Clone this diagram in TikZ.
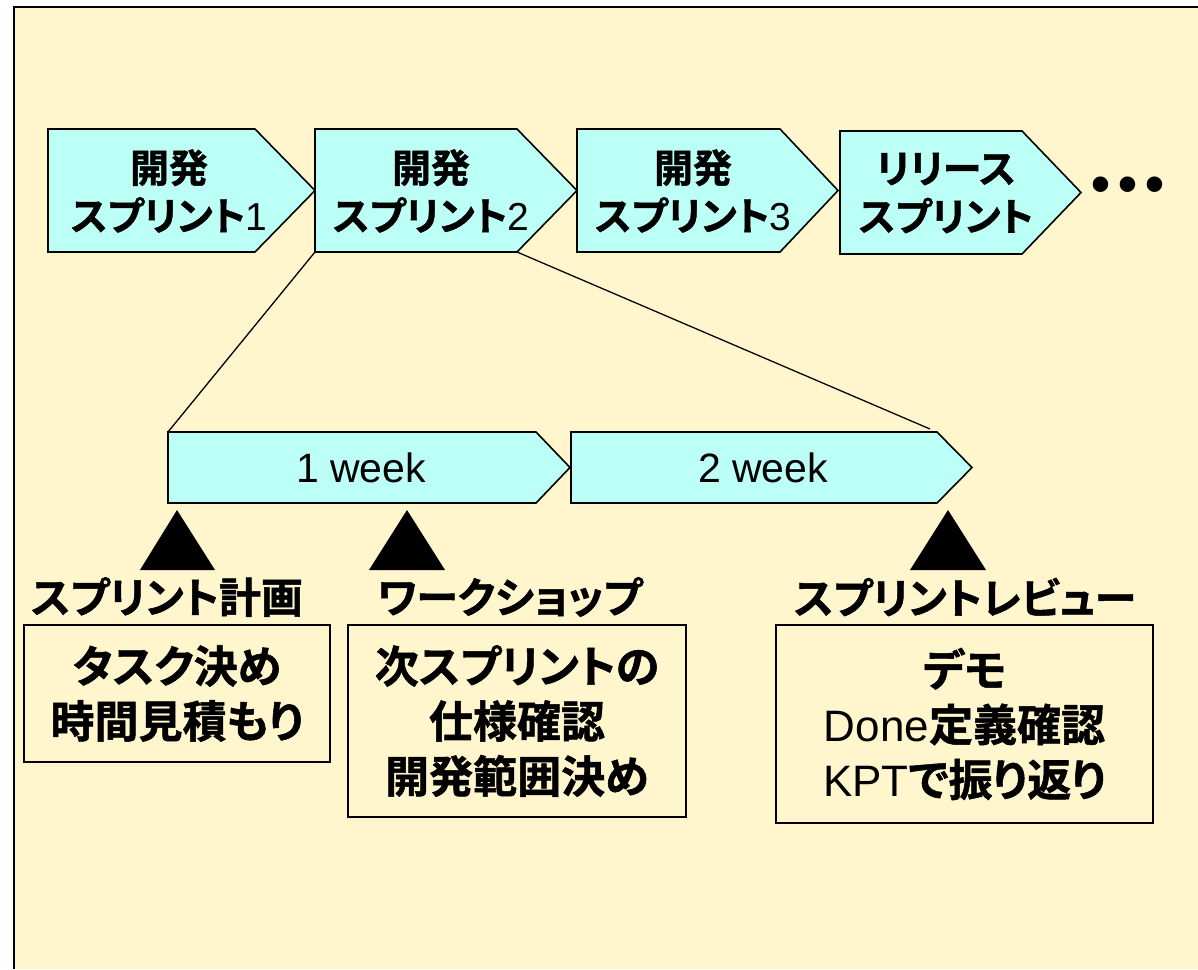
\documentclass[tikz,border=0pt]{standalone}
\usepackage{fontspec}
\setmainfont{Liberation Sans}
\newfontfamily\lat{Liberation Sans}
\newfontfamily\jp{Noto Sans CJK JP Bold}[RawFeature=+palt,FakeBold=1.2]
\definecolor{bgyellow}{RGB}{255,246,206}
\definecolor{chevcyan}{RGB}{188,255,247}
\newcommand\chevron[6]{%
  \draw[chev] (#2,#3) coordinate (#1nw) -- (#4,#3) coordinate (#1ne)
    -- (#5,{(#3+#6)/2}) coordinate (#1tip) -- (#4,#6) coordinate (#1se)
    -- (#2,#6) coordinate (#1sw) -- cycle;}
\begin{document}
\begin{tikzpicture}[x=1pt,y=-1pt,
  chev/.style={draw=black,line width=1.6pt,fill=chevcyan,line join=miter},
  toptext/.style={align=center,inner sep=0pt,font=\jp\fontsize{39}{48}\selectfont},
  weektext/.style={inner sep=0pt,font=\lat\fontsize{41}{48}\selectfont},
  conn/.style={draw=black,line width=1.3pt},
  marker/.style={fill=black},
  lbl/.style={inner sep=0pt,font=\jp\fontsize{42}{48}\selectfont},
  infobox/.style={draw=black,line width=1.5pt,fill=bgyellow,align=center,inner sep=0pt,
    font=\jp\fontsize{44}{55}\selectfont}]
\useasboundingbox (0,0) rectangle (1198,969);
\fill[bgyellow] (14,7) rectangle (1198,969);
\draw[line width=1.5pt] (14,969) -- (14,7) -- (1198,7);
% top chevrons
\chevron{c1}{48}{129}{255}{315}{252}
\chevron{c2}{315}{129}{517}{577}{252}
\chevron{c3}{577}{129}{780}{838}{252}
\chevron{c4}{840}{131}{1022}{1081}{254}
\node[toptext] (t1) at (169,191) {開発\\スプリント{\lat 1}};
\node[toptext] (t2) at (431,191) {開発\\スプリント{\lat 2}};
\node[toptext] (t3) at (693,191) {開発\\スプリント{\lat 3}};
\node[toptext] (t4) at (946,193) {リリース\\スプリント};
\node[inner sep=0pt,font=\lat\fontsize{54}{54}\selectfont\bfseries] (dots) at (1128,190) {•\hspace{8pt}•\hspace{8pt}•};
% lower chevrons
\chevron{w1}{168}{432}{536}{570}{503}
\chevron{w2}{571}{432}{937}{972}{503}
\node[weektext] (k1) at (361,468) {1 week};
\node[weektext] (k2) at (763,468) {2 week};
% connectors
\coordinate (rend) at (930,429);
\draw[conn] (c2sw) -- (w1nw);
\draw[conn] (c2se) -- (rend);
% markers
\fill[marker] (177,510) -- (215,570) -- (140,570) -- cycle;
\fill[marker] (407,510) -- (445,570) -- (369,570) -- cycle;
\fill[marker] (948,510) -- (986,570) -- (910,570) -- cycle;
% labels
\node[lbl] (l1) at (167,597) {スプリント計画};
\node[lbl] (l2) at (510,597) {ワークショップ};
\node[lbl] (l3) at (965,597) {スプリントレビュー};
% boxes
\node[infobox,minimum width=306pt,minimum height=137pt] (b1) at (177,693.5)
  {タスク決め\\時間見積もり};
\node[infobox,minimum width=338pt,minimum height=192pt] (b2) at (517,721)
  {次スプリントの\\仕様確認\\開発範囲決め};
\node[infobox,minimum width=377pt,minimum height=198pt] (b3) at (964.5,724)
  {デモ\\{\lat Done}定義確認\\{\lat KPT}で振り返り};
\end{tikzpicture}
\end{document}
